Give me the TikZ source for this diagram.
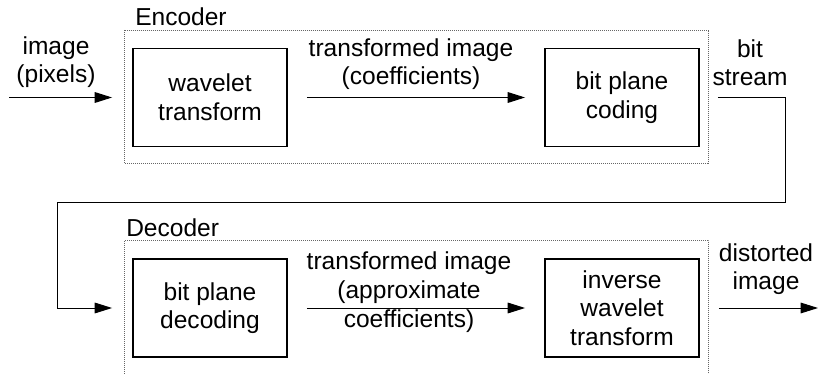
\documentclass[tikz,border=0pt]{standalone}
\usepackage{fontspec}
\setmainfont{Liberation Sans}
\usetikzlibrary{arrows.meta}

\def\pxunit{0.75pt}

\begin{document}
\begin{tikzpicture}[x=\pxunit, y=-\pxunit,
  font=\fontsize{18.4}{21.5}\selectfont,
  block/.style={draw, line width=1.4pt, minimum width=115.5pt,
    minimum height=73.5pt, align=center, inner sep=0pt},
  groupbox/.style={draw=gray!80!black, line width=0.6pt,
    dash pattern=on 0.75pt off 0.75pt},
  lbl/.style={align=center, inner sep=0pt, anchor=base},
  flow/.style={line width=0.75pt, -{Triangle[length=13pt,width=8pt]},
    shorten <=14.25pt, shorten >=14.25pt}]
  \useasboundingbox (0,0) rectangle (818,374);

  % encoder
  \draw[groupbox] (124.5,30) rectangle (708,163.5);
  \node[lbl, anchor=base west] (enclbl) at (135,26) {Encoder};
  \node[block] (wt) at (210,97.5) {wavelet\\transform};
  \node[block] (bpc) at (622,97.5) {bit plane\\coding};

  % decoder
  \draw[groupbox] (124.5,374) |- (708,240.5) -- (708,374);
  \node[lbl, anchor=base west] (declbl) at (126,237) {Decoder};
  \node[block] (bpd) at (210,308) {bit plane\\decoding};
  \node[block] (iwt) at (622,308) {inverse\\wavelet\\transform};

  % the wiring
  \coordinate (imgin) at (9,97.5);
  \coordinate (imgout) at (818,308);
  \coordinate (c1) at (785,97.5);
  \coordinate (c2) at (785,202.5);
  \coordinate (c3) at (57.5,202.5);
  \coordinate (c4) at (57.5,308);

  \draw[flow, shorten <=0pt, shorten >=15pt] (imgin) -- (wt.west);
  \draw[flow] (wt.east) -- (bpc.west);
  \draw[flow, shorten <=13.5pt, shorten >=15pt]
    (bpc.east) -- (c1) -- (c2) -- (c3) -- (c4) -- (bpd.west);
  \draw[flow] (bpd.east) -- (iwt.west);
  \draw[flow, shorten >=0pt] (iwt.east) -- (imgout);

  % labels on the wires
  \node[lbl] (inlbl) at (56,83) {image\\(pixels)};
  \node[lbl] (enclbl2) at (411,85) {transformed image\\(coefficients)};
  \node[lbl] (bitlbl) at (750,86) {bit\\stream};
  \node[lbl] (declbl2) at (409,327) {transformed image\\(approximate\\coefficients)};
  \node[lbl] (outlbl) at (766,290) {distorted\\image};
\end{tikzpicture}
\end{document}
